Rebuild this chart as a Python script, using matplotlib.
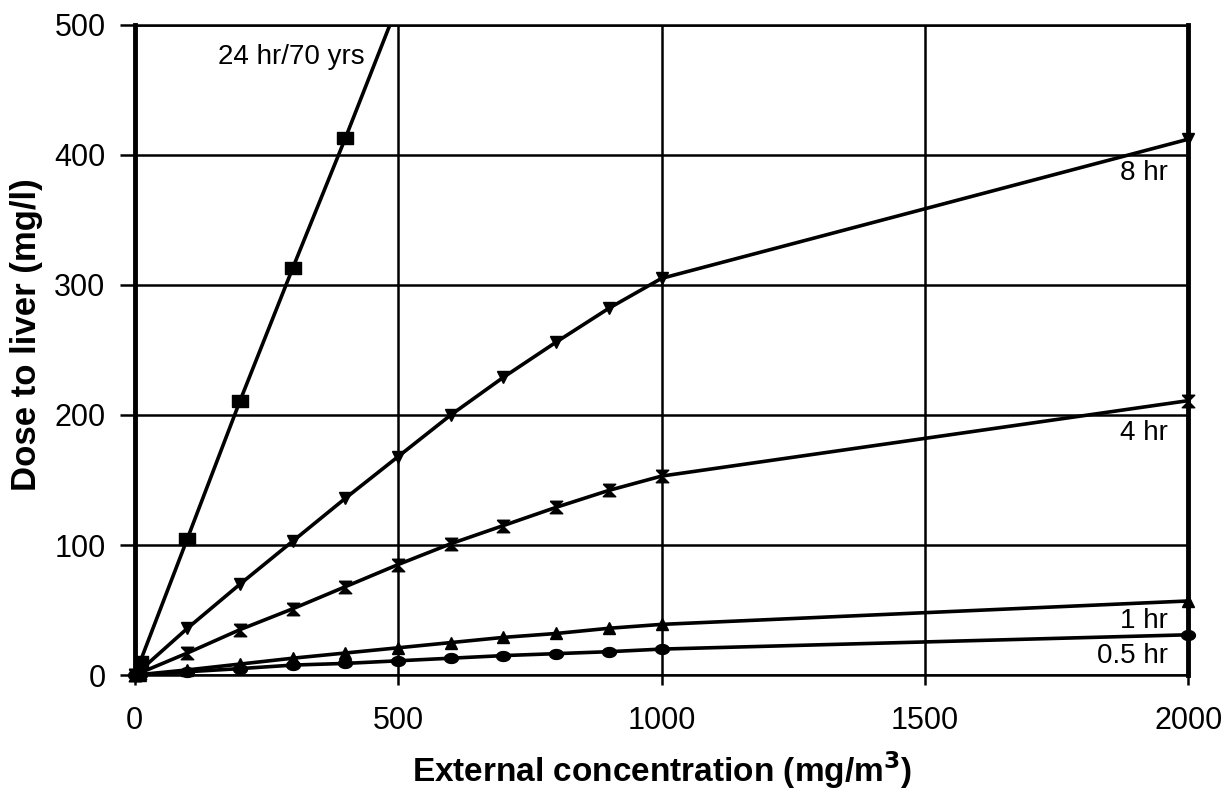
import numpy as np
import matplotlib
matplotlib.use("Agg")
import matplotlib.pyplot as plt

plt.rcParams['font.family'] = ['Liberation Sans', 'DejaVu Sans']

# External concentration (mg/m3)
conc = [0, 10, 100, 200, 300, 400, 500, 600, 700, 800, 900, 1000, 2000]

# Dose to liver (mg/l) for each exposure duration
dose_24hr = [0, 10, 105, 211, 313, 413, 516]
dose_8hr = [0, 3.5, 36, 70, 103, 136, 168, 200, 229, 256, 282, 305, 412]
dose_4hr = [0, 1.7, 17, 35, 51, 68, 85, 101, 115, 129, 142, 153, 211]
dose_1hr = [0, 0.4, 4, 8.5, 13, 17, 21, 25, 29, 32, 36, 39, 57]
dose_05hr = [0, 0.2, 2.6, 5, 7.7, 9, 11, 13, 15, 16.5, 18, 20, 31]

# custom marker shapes
rect = [(-1.5, -1), (1.5, -1), (1.5, 1), (-1.5, 1), (-1.5, -1)]
hourglass = [(-1, 1), (1, 1), (-1, -1), (1, -1), (-1, 1)]
ellipse = [(1.4 * np.cos(t), np.sin(t)) for t in np.linspace(0, 2 * np.pi, 30)]

fig, ax = plt.subplots(figsize=(12.25, 7.98), dpi=100)
fig.subplots_adjust(left=0.110, right=0.970, top=0.969, bottom=0.154)

lw = 2.6
ax.plot(conc[:len(dose_24hr)], dose_24hr, color='black', lw=lw, marker=rect, ms=12, clip_on=True)
ax.plot(conc, dose_8hr, color='black', lw=lw, marker='v', ms=8, clip_on=False)
ax.plot(conc, dose_4hr, color='black', lw=lw, marker=hourglass, ms=9, clip_on=False)
ax.plot(conc, dose_1hr, color='black', lw=lw, marker='^', ms=8, clip_on=False)
ax.plot(conc, dose_05hr, color='black', lw=lw, marker=ellipse, ms=10, clip_on=False)

ax.set_xlim(0, 2000)
ax.set_ylim(0, 500)
ax.set_xticks([0, 500, 1000, 1500, 2000])
ax.set_yticks([0, 100, 200, 300, 400, 500])
ax.grid(True, color='black', lw=1.8)
ax.set_axisbelow(True)

for side in ['left', 'right']:
    ax.spines[side].set_linewidth(3.5)
for side in ['top', 'bottom']:
    ax.spines[side].set_linewidth(1.8)
ax.tick_params(axis='x', direction='out', length=7, width=1.8, labelsize=22, pad=15)
ax.tick_params(axis='y', direction='out', length=11, width=1.8, labelsize=22, pad=10)

ax.set_xlabel('External concentration (mg/m$^\\mathbf{3}$)', fontsize=24, fontweight='bold', labelpad=10)
ax.set_ylabel('Dose to liver (mg/l)', fontsize=25, fontweight='bold')
ax.yaxis.set_label_coords(-0.087, 0.523)

ax.text(437, 475, '24 hr/70 yrs', fontsize=20, ha='right', va='center')
ax.text(1962, 386, '8 hr', fontsize=20, ha='right', va='center')
ax.text(1962, 186, '4 hr', fontsize=20, ha='right', va='center')
ax.text(1962, 41.5, '1 hr', fontsize=20, ha='right', va='center')
ax.text(1962, 15, '0.5 hr', fontsize=20, ha='right', va='center')

plt.savefig('out.png', dpi=100)
